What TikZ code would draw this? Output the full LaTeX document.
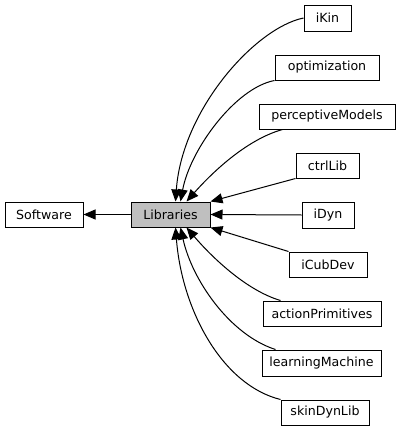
\documentclass[tikz,border=0pt]{standalone}
\usepackage{fontspec}
\setmainfont{DejaVu Sans}
\usetikzlibrary{arrows.meta,calc}
\tikzset{
  box/.style={draw=black,line width=1pt,fill=white,inner sep=0pt,minimum height=25pt,font=\fontsize{12.6}{15}\selectfont},
  cur/.style={fill=black!25},
  edge/.style={line width=1pt,-{Triangle[length=12pt,width=10pt]}},
}
\begin{document}
\begin{tikzpicture}[x=1pt,y=-1pt]
\useasboundingbox (0,0) rectangle (403,431);
\node[box,minimum width=78pt] (sw) at (44,214.5) {Software};
\node[box,cur,minimum width=79pt] (lib) at (170.5,214.5) {Libraries};
\node[box,minimum width=47pt,minimum height=26pt] (ikin) at (327.5,18) {iKin};
\node[box,minimum width=104pt] (opt) at (327,67.5) {optimization};
\node[box,minimum width=136pt] (pm) at (327,116.5) {perceptiveModels};
\node[box,minimum width=63pt] (ctrl) at (327.5,165.5) {ctrlLib};
\node[box,minimum width=52pt,minimum height=26pt] (idyn) at (328,215) {iDyn};
\node[box,minimum width=78pt] (icub) at (328,264.5) {iCubDev};
\node[box,minimum width=118pt] (ap) at (322,313.5) {actionPrimitives};
\node[box,minimum width=119pt,minimum height=26pt] (lm) at (321.5,363) {learningMachine};
\node[box,minimum width=88pt] (sdl) at (325,412.5) {skinDynLib};

\draw[edge] (lib.west) -- (sw.east);
\draw[edge] (ikin.west) .. controls (255,28) and (182,110) .. ($(lib.north west)+(45,0)$);
\draw[edge] (opt.south west) .. controls (235,88) and (190,150) .. ($(lib.north west)+(50,0)$);
\draw[edge] ($(pm.south west)+(24,0)$) .. controls (245,140) and (210,175) .. ($(lib.north west)+(56,0)$);
\draw[edge] (ctrl.south west) -- (lib.north east);
\draw[edge] (idyn.west) -- (lib.east);
\draw[edge] (icub.north west) -- (lib.south east);
\draw[edge] ($(ap.north west)+(18,0)$) .. controls (245,290) and (210,255) .. ($(lib.south west)+(56,0)$);
\draw[edge] ($(lm.north west)+(14,0)$) .. controls (230,335) and (192,280) .. ($(lib.south west)+(50,0)$);
\draw[edge] (sdl.north west) .. controls (222,385) and (182,310) .. ($(lib.south west)+(45,0)$);
\end{tikzpicture}
\end{document}
